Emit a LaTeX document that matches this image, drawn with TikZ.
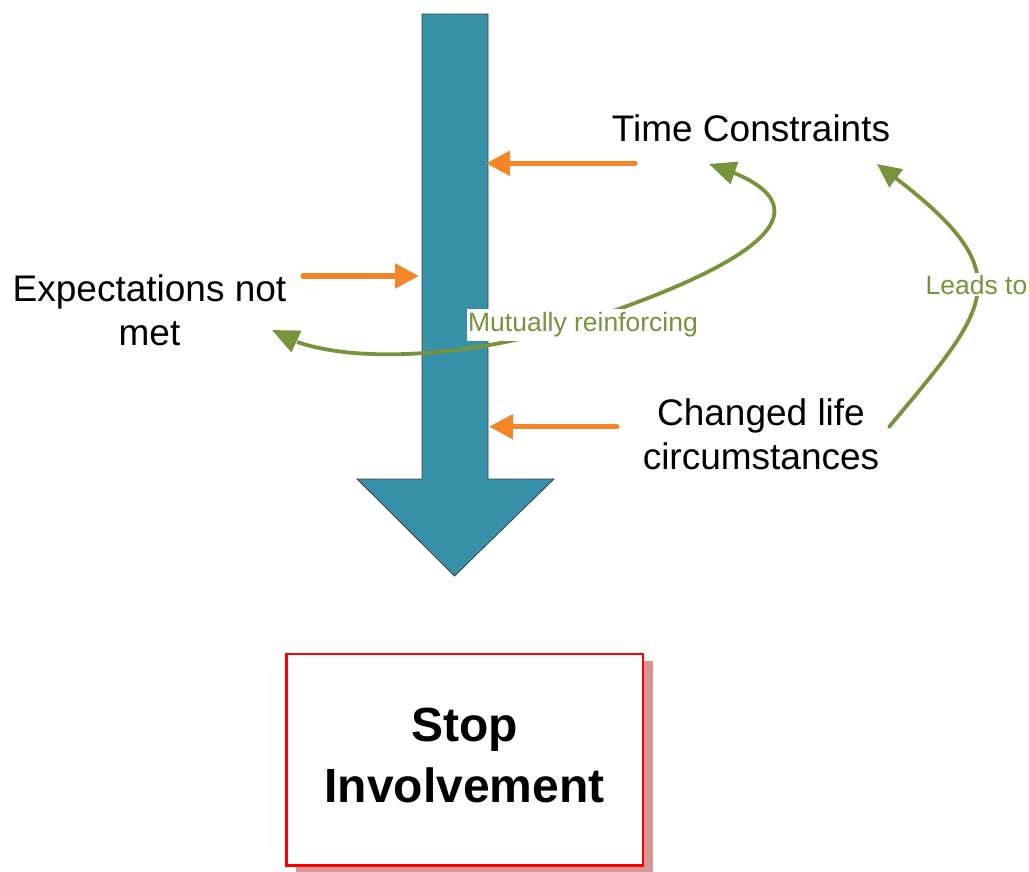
\documentclass[tikz,border=0pt]{standalone}
\usepackage{fontspec}
\setmainfont{Liberation Sans}
\usetikzlibrary{arrows.meta,shadows,bending}

\definecolor{flowteal}{RGB}{54,145,168}
\definecolor{pushorange}{RGB}{243,134,40}
\definecolor{linkgreen}{RGB}{119,147,60}
\definecolor{shadowred}{RGB}{217,150,148}

\tikzset{
  factor/.style={font=\fontsize{37}{43.5}\selectfont, align=center, inner sep=0pt},
  push/.style={draw=pushorange, line width=5.3pt, line cap=round,
    -{Triangle[length=24pt,width=24pt]}},
  link/.style={draw=linkgreen, line width=3.8pt,
    {Triangle[length=27pt,width=23pt]}-{Triangle[length=27pt,width=23pt]}},
  leads/.style={draw=linkgreen, line width=3.8pt, line cap=round,
    -{Triangle[length=24pt,width=22pt]}},
  linklabel/.style={font=\fontsize{26.5}{30}\selectfont, text=linkgreen, fill=white,
    inner xsep=1.5pt, inner ysep=3.5pt},
  outcome/.style={draw=red, line width=2.5pt, fill=white,
    minimum width=356.5pt, minimum height=211.5pt,
    font=\bfseries\fontsize{48}{61}\selectfont, align=center,
    drop shadow={shadow xshift=10pt, shadow yshift=-7pt, fill=shadowred, opacity=1}},
  flow/.style={fill=flowteal, draw=black!75, line width=0.8pt, line join=miter}
}

\begin{document}
\begin{tikzpicture}[x=1pt,y=-1pt]
  \useasboundingbox (0,0) rectangle (1029,871);

  % main downward flow arrow
  \draw[flow] (422,14) -- (488,14) -- (488,479) -- (554,479) -- (454.5,576)
    -- (357,479) -- (422,479) -- cycle;
  \coordinate (hitTime) at (486,163.3);
  \coordinate (hitExp)  at (419,276);
  \coordinate (hitLife) at (489,426.7);

  % factors
  \node[factor, anchor=base] (time) at (751,141.7) {Time Constraints};
  \node[factor] (exp) at (149.5,310.4) {Expectations not\\met};
  \node[factor] (life) at (761,434.2) {Changed life\\circumstances};

  % outcome box
  \node[outcome] (stop) at (464.5,759.7) {Stop\\Involvement\rule[-9pt]{0pt}{9pt}};

  % tails of the pushing arrows
  \coordinate (timeTail) at (635,163.3);
  \coordinate (expTail)  at (303,276);
  \coordinate (lifeTail) at (617,426.7);

  % mutual reinforcement loop
  \coordinate (expTip)  at (272,330);
  \coordinate (midLoop) at (575,324);
  \coordinate (timeTip) at (709,164);
  \draw[link] (expTip) .. controls (330,368) and (470,358) .. (midLoop)
    .. controls (731,273) and (856,209) .. (timeTip);
  \node[linklabel] (mutual) at (583,325) {Mutually reinforcing};

  % changed circumstances lead to time constraints
  \coordinate (lifeStart) at (889,427);
  \coordinate (timeTip2)  at (877,164);
  \draw[leads] (lifeStart) .. controls (995,300) and (1024,272) .. (timeTip2);
  \node[linklabel, inner ysep=1.5pt] (leadsto) at (976.5,284.7) {Leads to};

  % pushing arrows
  \draw[push] (timeTail) -- (hitTime);
  \draw[push] (expTail) -- (hitExp);
  \draw[push] (lifeTail) -- (hitLife);
\end{tikzpicture}
\end{document}
